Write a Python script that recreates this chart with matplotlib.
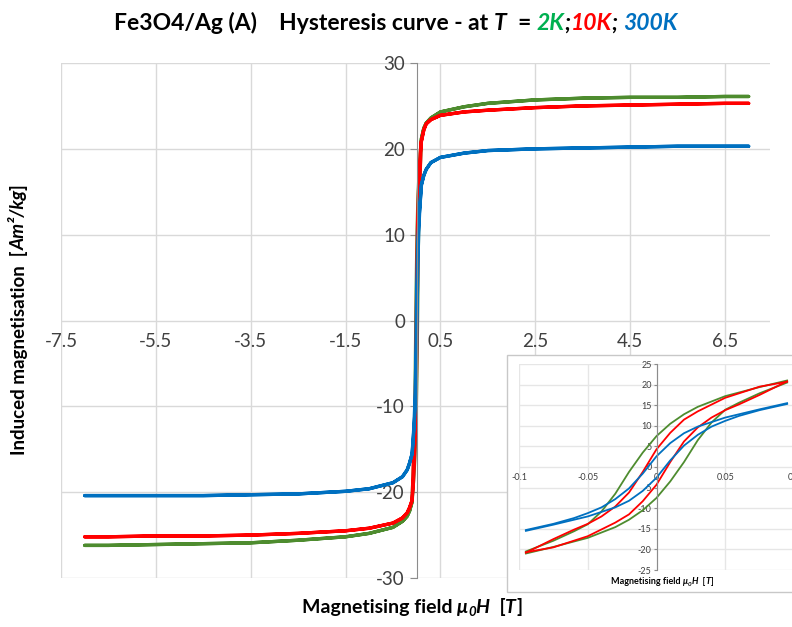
import matplotlib
matplotlib.use("Agg")
import matplotlib.pyplot as plt
from matplotlib.patches import Rectangle

# high-field parts of the loops, field in T, magnetisation in Am2/kg
field_pos = [0.1, 0.15, 0.2, 0.3, 0.5, 1.0, 1.5, 2.5, 3.5, 4.5, 5.5, 6.5, 7.0]
field_neg = [-0.1, -0.15, -0.2, -0.3, -0.5, -1.0, -1.5, -2.5, -3.5, -4.5, -5.5, -6.5, -7.0]

m2k_pos = [21.2, 22.4, 23.0, 23.6, 24.3, 24.9, 25.3, 25.7, 25.9, 26.0, 26.0, 26.1, 26.1]
m10k_pos = [20.9, 22.2, 22.9, 23.4, 23.9, 24.3, 24.5, 24.8, 25.0, 25.1, 25.2, 25.3, 25.3]
m300k_pos = [15.8, 16.9, 17.6, 18.4, 19.0, 19.5, 19.8, 20.0, 20.1, 20.2, 20.3, 20.3, 20.3]

m2k_neg = [-21.2, -22.2, -22.8, -23.4, -24.1, -24.8, -25.2, -25.6, -25.9, -26.0, -26.1, -26.2, -26.2]
m10k_neg = [-21.0, -21.8, -22.4, -23.0, -23.6, -24.2, -24.5, -24.8, -25.0, -25.1, -25.1, -25.2, -25.2]
m300k_neg = [-15.6, -16.6, -17.4, -18.2, -18.9, -19.6, -19.9, -20.2, -20.3, -20.4, -20.4, -20.4, -20.4]

# low-field descending branch (the ascending one is its mirror image)
field_low = [0.095, 0.075, 0.05, 0.03, 0.02, 0.01, 0.0, -0.01, -0.02, -0.03, -0.04, -0.05, -0.06, -0.075, -0.095]
m2k_low = [21.0, 19.4, 17.2, 14.6, 12.8, 10.5, 7.5, 3.5, -1.2, -6.5, -10.8, -13.9, -15.6, -17.9, -20.5]
m10k_low = [20.7, 19.5, 16.8, 13.5, 11.5, 8.3, 4.3, -1.2, -6.2, -9.6, -12.0, -13.8, -15.2, -17.5, -20.8]
m300k_low = [15.5, 14.0, 12.0, 9.8, 8.2, 5.8, 2.6, -1.6, -5.2, -7.8, -9.8, -11.2, -12.4, -13.8, -15.3]

x_ticks = [-7.5, -5.5, -3.5, -1.5, 0.5, 2.5, 4.5, 6.5]
y_ticks = [-30, -20, -10, 0, 10, 20, 30]
inset_x_ticks = [-0.1, -0.05, 0, 0.05, 0.1]
inset_y_ticks = [-25, -20, -15, -10, -5, 0, 5, 10, 15, 20, 25]

green = "#4e8c2f"
red = "#ff0000"
blue = "#0070c0"

plt.rcParams["font.family"] = ["Lato", "DejaVu Sans"]
plt.rcParams["axes.unicode_minus"] = False


def loop(m_pos, m_neg, m_low):
    # sweep down from +7 T to -7 T, then back up
    h_down = field_pos[::-1] + field_low + field_neg
    m_down = m_pos[::-1] + m_low + m_neg
    h_up = field_neg[::-1] + [-h for h in field_low] + field_pos
    m_up = m_neg[::-1] + [-m for m in m_low] + m_pos
    return h_down + h_up, m_down + m_up


def style_axes(ax, xt, yt, size, grid_col):
    ax.set_xticks(xt)
    ax.set_yticks(yt)
    ax.grid(True, color=grid_col, lw=1)
    ax.set_axisbelow(True)
    for s in ("top", "right"):
        ax.spines[s].set_visible(False)
    ax.spines["left"].set_position(("data", 0))
    ax.spines["left"].set_color("#8c8c8c")
    ax.spines["bottom"].set_position(("data", 0))
    ax.spines["bottom"].set_visible(False)
    ax.tick_params(axis="x", length=0, labelsize=size, labelcolor="#404040")
    ax.tick_params(axis="y", length=5, color="#8c8c8c", labelsize=size, labelcolor="#404040")


fig = plt.figure(figsize=(7.92, 6.27), dpi=100)
ax = fig.add_axes([61 / 792, 49 / 627, 709 / 792, 515 / 627])

series = [(m2k_pos, m2k_neg, green), (m10k_pos, m10k_neg, red), (m300k_pos, m300k_neg, blue)]
lows = [m2k_low, m10k_low, m300k_low]
for (mp, mn, c), ml in zip(series, lows):
    h, m = loop(mp, mn, ml)
    ax.plot(h, m, color=c, lw=2.4, solid_capstyle="round")

ax.set_xlim(-7.5, 7.45)
ax.set_ylim(-30, 30)
style_axes(ax, x_ticks, y_ticks, 13.5, "#d9d9d9")
ax.tick_params(axis="x", pad=9)
ax.set_xticklabels([f"{t:g}" for t in x_ticks])

# inset with the low-field loops
box = Rectangle((507 / 792, 35 / 627), 0.5, 237 / 627, transform=fig.transFigure,
                facecolor="white", edgecolor="#c8c8c8", lw=1, zorder=1)
fig.patches.append(box)
axi = fig.add_axes([519 / 792, 57 / 627, 275 / 792, 206 / 627])
axi.set_zorder(2)
axi.patch.set_alpha(0)
for (mp, mn, c), ml in zip(series, lows):
    axi.plot(field_low, ml, color=c, lw=1.3)
    axi.plot([-h for h in field_low], [-m for m in ml], color=c, lw=1.3)
axi.set_xlim(-0.1, 0.1)
axi.set_ylim(-25, 25)
style_axes(axi, inset_x_ticks, inset_y_ticks, 6.5, "#e6e6e6")
axi.tick_params(axis="y", length=2, pad=1.5)
axi.tick_params(axis="x", pad=4)
axi.set_xticklabels([f"{t:g}" for t in inset_x_ticks])


def rich_text(x, y, pieces, rotation=0, size=13):
    # place differently styled pieces one after the other, centred on (x, y)
    r = fig.canvas.get_renderer()
    arts, lengths = [], []
    for p in pieces:
        s, props = p[0], dict(p[1])
        props.setdefault("fontsize", size)
        props.setdefault("fontweight", "bold")
        a = fig.text(0, 0, s, rotation=rotation, rotation_mode="anchor",
                     ha="left", va="baseline", **props)
        bb = a.get_window_extent(r)
        arts.append(a)
        lengths.append(bb.height if rotation else bb.width)
    pos = -sum(lengths) / 2
    W, H = fig.bbox.width, fig.bbox.height
    for a, n, p in zip(arts, lengths, pieces):
        dy = p[2] if len(p) > 2 else 0
        if rotation:
            a.set_position((x - dy / W, y + pos / H))
        else:
            a.set_position((x + pos / W, y + dy / H))
        pos += n


it = {"fontstyle": "italic"}
rich_text(0.5, 0.952, [
    ("Fe3O4/Ag (A)    Hysteresis curve - at ", {}),
    ("T", it),
    ("  = ", {}),
    ("2K", {"fontstyle": "italic", "color": "#00b050"}),
    (";", it),
    ("10K", {"fontstyle": "italic", "color": red}),
    ("; ", it),
    ("300K", {"fontstyle": "italic", "color": blue}),
], size=16.5)

rich_text(0.031, 0.49, [
    ("Induced magnetisation  [", {}),
    ("Am²/kg", it),
    ("]", {}),
], rotation=90, size=13.5)

rich_text(0.52, 0.022, [
    ("Magnetising field ", {}),
    ("μ", it),
    ("0", {"fontstyle": "italic", "fontsize": 9.5}, -3),
    ("H", it),
    ("  [", {}),
    ("T", it),
    ("]", {}),
], size=14)

rich_text(662 / 792, 43 / 627, [
    ("Magnetising field ", {}),
    ("μ", it),
    ("0", {"fontstyle": "italic", "fontsize": 4.5}, -1.5),
    ("H", it),
    ("  [", {}),
    ("T", it),
    ("]", {}),
], size=6.5)

fig.savefig("out.png", dpi=100)
